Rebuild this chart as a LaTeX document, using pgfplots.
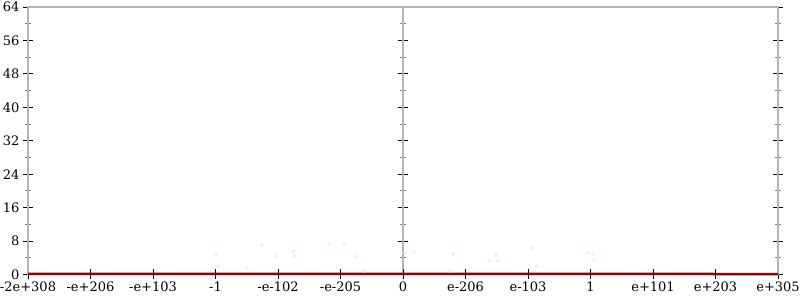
\documentclass[border=0pt]{standalone}
\usepackage{pgfplots}
\pgfplotsset{compat=1.18}
\usepackage{fontspec}
\setmainfont{DejaVu Serif}
\definecolor{axgray}{RGB}{180,180,180}
\definecolor{linered}{RGB}{155,0,0}
\definecolor{dotpink}{RGB}{255,232,232}
\begin{document}
\begin{tikzpicture}[font=\fontsize{13bp}{15bp}\selectfont]
% middle vertical axis at x = 0
\begin{axis}[
  scale only axis, width=750bp, height=267.5bp,
  xmin=-6, xmax=6, ymin=0, ymax=64,
  axis y line=middle, axis x line=none,
  ytick={0,8,...,64}, minor y tick num=1,
  yticklabels={},
  tick align=center,
  major tick length=10bp, minor tick length=6bp,
  every tick/.style={black, line width=0.8bp},
  every minor tick/.style={gray, line width=0.8bp},
  axis line style={axgray, line width=2bp, -},
]
\end{axis}
\begin{axis}[
  name=ax,
  scale only axis, width=750bp, height=267.5bp,
  xmin=0, xmax=12, ymin=0, ymax=64,
  xtick={0,...,12},
  xticklabels={-2e+308,-e+206,-e+103,-1,-e-102,-e-205,0,e-206,e-103,1,e+101,e+203,e+305},
  ytick={0,8,...,64}, minor y tick num=1,
  xtick pos=bottom, ytick pos=both, yticklabel pos=left,
  tick align=center,
  major tick length=10bp, minor tick length=6bp,
  every tick/.style={black, line width=0.8bp},
  every minor tick/.style={gray, line width=0.8bp},
  axis line style={axgray, line width=2bp},
  /pgf/number format/assume math mode=true,
  xticklabel style={yshift=1bp},
  clip=false,
]
\addplot[only marks, mark=*, mark size=1.8bp, dotpink, draw=none] coordinates {
 (3.01,4.9) (3.04,1.9) (3.50,1.6) (3.74,7.1) (3.96,4.3) (4.25,5.5) (4.27,4.4)
 (4.82,7.3) (5.06,7.1) (5.26,4.3) (5.38,0.9) (6.03,5.1) (6.18,5.4) (6.8,4.9)
 (6.75,0.9) (7.38,3.3) (7.49,4.7) (7.52,3.3) (8.08,6.3) (8.14,2.1) (8.96,5.2)
 (9.04,4.9) (9.05,3.5)
};
\addplot[linered, line width=2.5bp] coordinates {(0,0.15) (3,0.15) (6,0.15) (9,0.15) (12,0.1)};
\end{axis}
\pgfresetboundingbox
\path[use as bounding box] ([shift={(-28bp,-25.5bp)}]ax.south west) rectangle ([shift={(22bp,7bp)}]ax.north east);
\end{tikzpicture}
\end{document}
